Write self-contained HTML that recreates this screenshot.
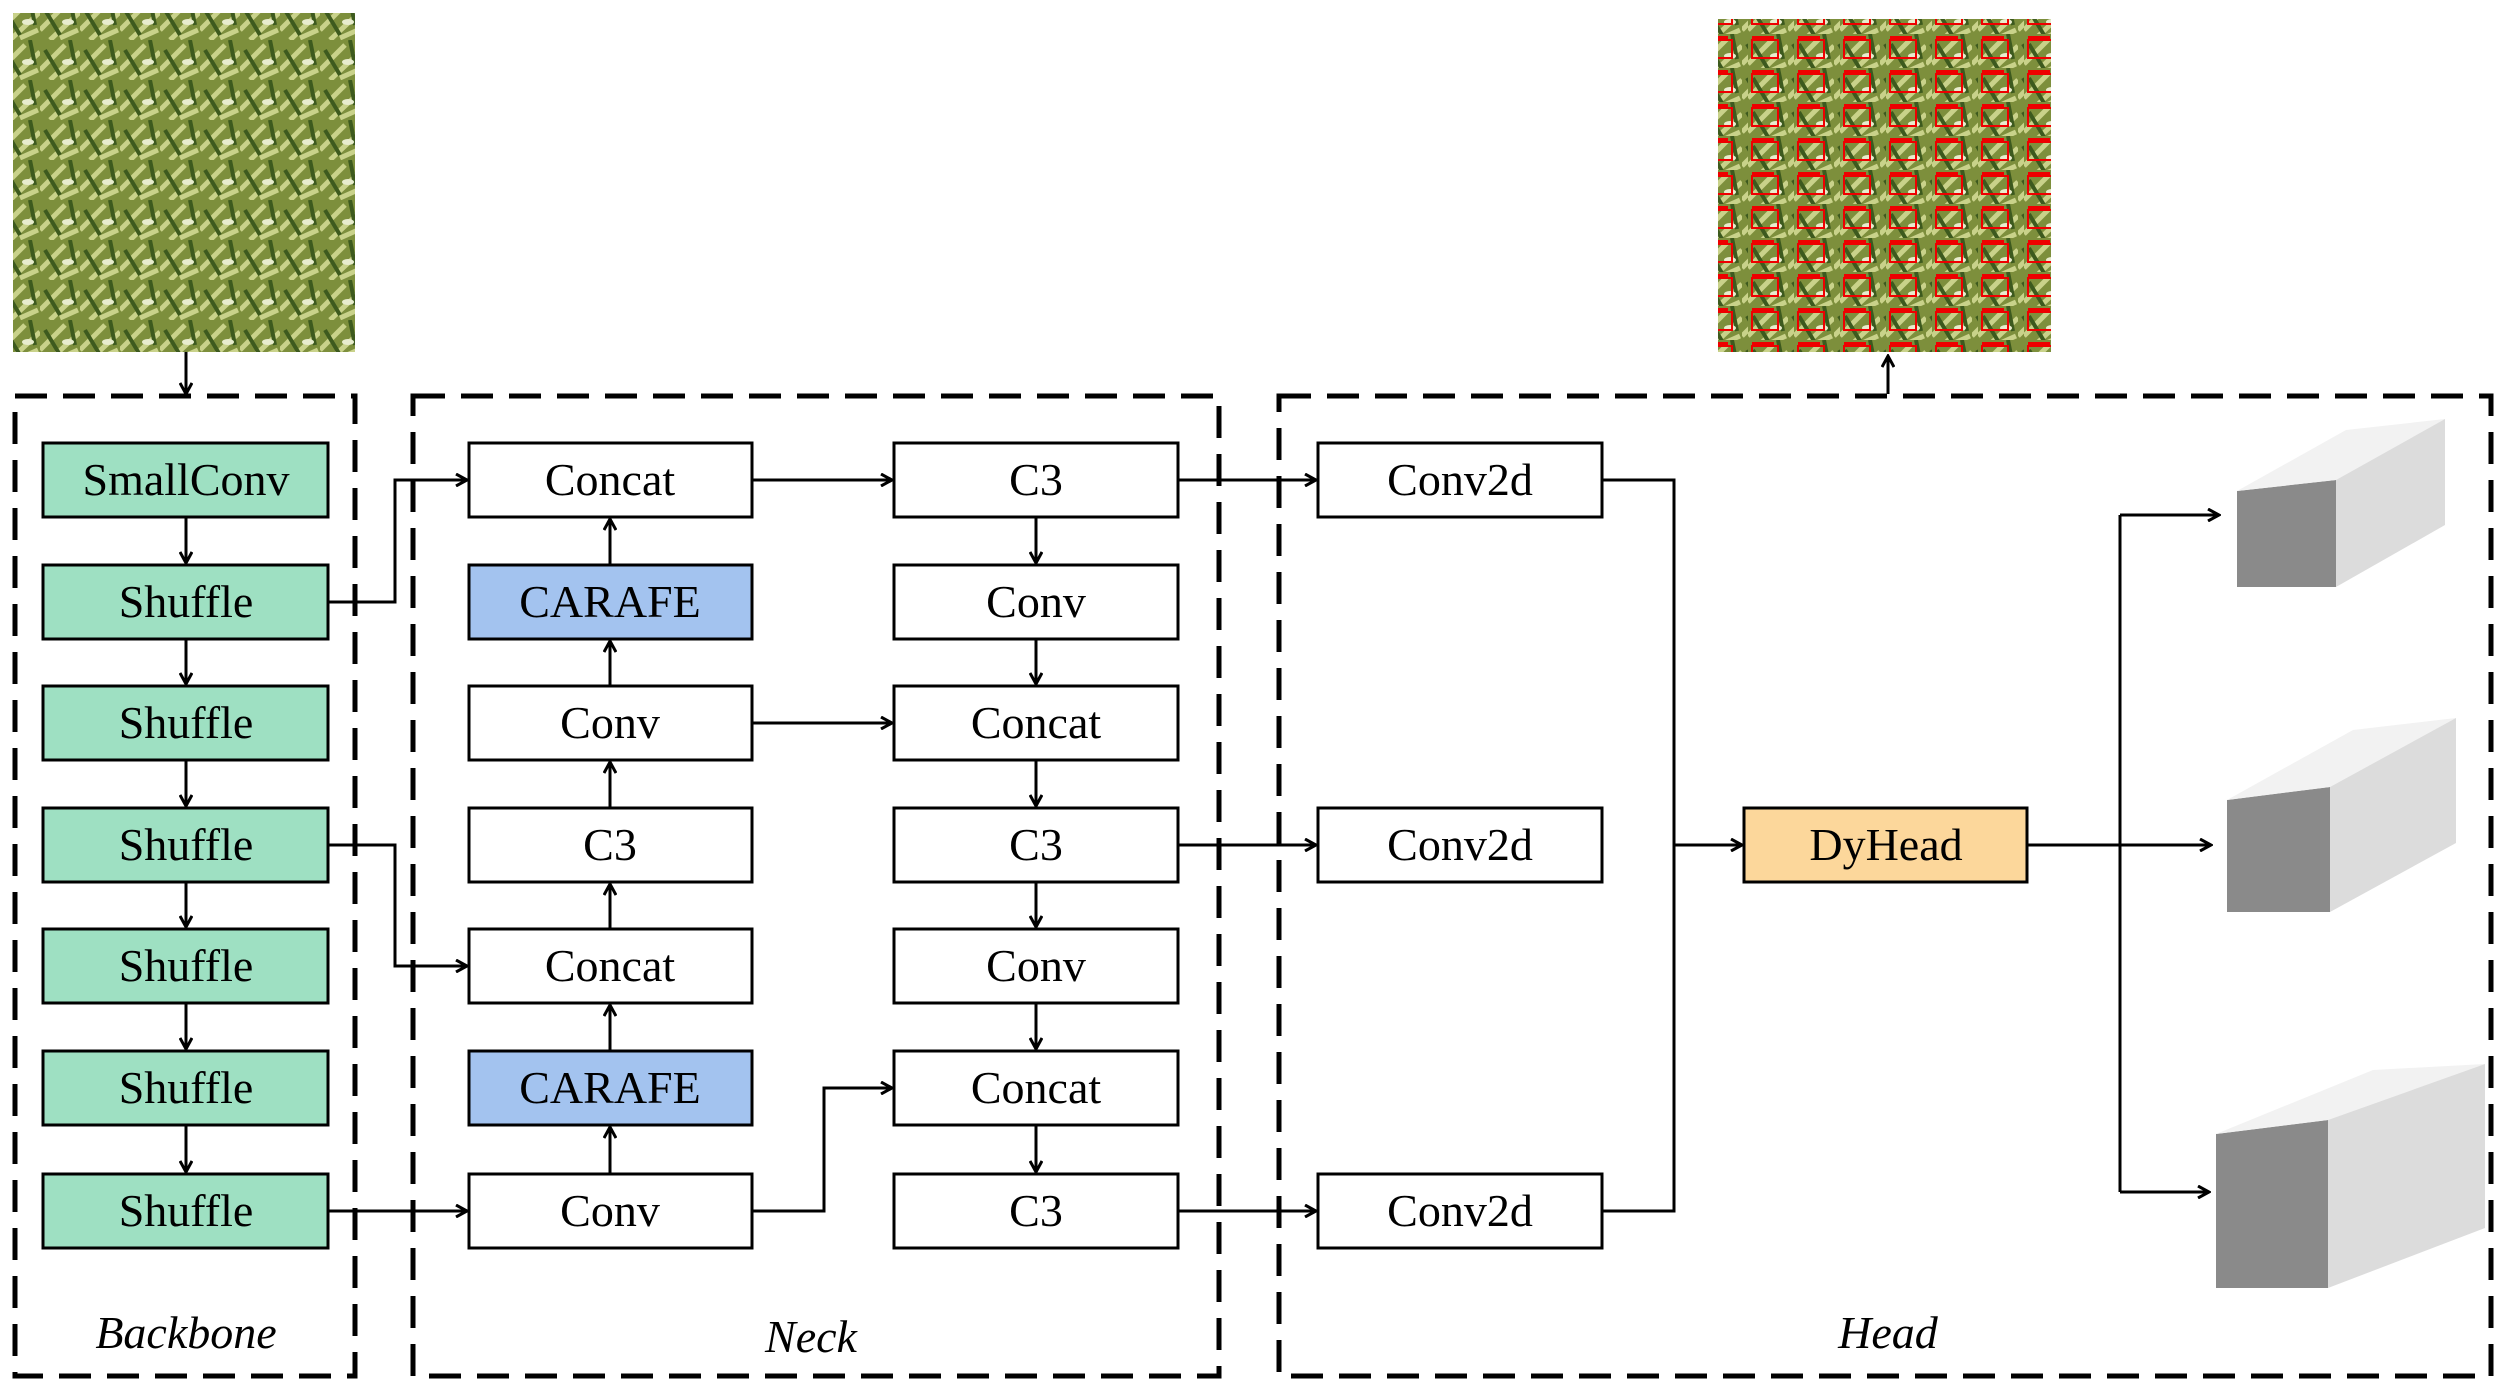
<!DOCTYPE html>
<html><head><style>
body{margin:0;background:#fff}
</style></head><body>
<svg width="2500" height="1388" viewBox="0 0 2500 1388" xmlns="http://www.w3.org/2000/svg" font-family="'Liberation Serif', 'DejaVu Serif', serif">
<defs>
<marker id="a" markerWidth="14" markerHeight="14" refX="12" refY="7" orient="auto" markerUnits="userSpaceOnUse"><path d="M1,1 L12,7 L1,13" fill="none" stroke="#000" stroke-width="3"/></marker>
<pattern id="g" width="40" height="40" patternUnits="userSpaceOnUse"><rect width="40" height="40" fill="#7d8f3c"/><path d="M0,30 L25,5 M10,40 L40,12 M20,38 L38,30" stroke="#c9d28a" stroke-width="5"/><path d="M5,10 L20,35 M30,0 L35,25" stroke="#3d5a1e" stroke-width="4"/><ellipse cx="28" cy="22" rx="6" ry="3" fill="#e8eccd"/></pattern>
<pattern id="r" width="46" height="34" patternUnits="userSpaceOnUse"><rect width="46" height="34" fill="url(#g)"/><rect x="4" y="6" width="26" height="18" fill="none" stroke="#e00" stroke-width="2"/><rect x="4" y="2" width="22" height="5" fill="#e00"/></pattern>
</defs>
<rect x="13" y="13" width="342" height="339" fill="url(#g)"/>
<rect x="1718" y="19" width="333" height="333" fill="url(#r)"/>
<g fill="none" stroke="#000" stroke-width="5" stroke-dasharray="32,16">
<rect x="15" y="396" width="340" height="980"/>
<rect x="413" y="396" width="806" height="980"/>
<rect x="1279" y="396" width="1212" height="980"/>
</g>
<g stroke="#000" stroke-width="3" fill="none" marker-end="url(#a)">
<path d="M186,352 V394"/>
<path d="M1888,394 V356"/>
<path d="M186,517 V563"/><path d="M186,639 V684"/><path d="M186,760 V806"/><path d="M186,882 V927"/><path d="M186,1003 V1049"/><path d="M186,1125 V1172"/>
<path d="M328,602 H395 V480 H467"/>
<path d="M328,845 H395 V966 H467"/>
<path d="M328,1211 H467"/>
<path d="M610,1174 V1127"/><path d="M610,1051 V1005"/><path d="M610,929 V884"/><path d="M610,808 V762"/><path d="M610,686 V641"/><path d="M610,565 V519"/>
<path d="M752,480 H892"/><path d="M752,723 H892"/><path d="M752,1211 H824 V1088 H892"/>
<path d="M1036,517 V563"/><path d="M1036,639 V684"/><path d="M1036,760 V806"/><path d="M1036,882 V927"/><path d="M1036,1003 V1049"/><path d="M1036,1125 V1172"/>
<path d="M1178,480 H1316"/><path d="M1178,845 H1316"/><path d="M1178,1211 H1316"/>
<path d="M1674,845 H1742"/>
<path d="M2120,515 H2219"/><path d="M2120,845 H2211"/><path d="M2120,1192 H2209"/>
</g>
<g stroke="#000" stroke-width="3" fill="none"><path d="M1602,480 H1674 V1211 H1602"/><path d="M2027,845 H2120 M2120,515 V1192"/></g>
<g stroke="#000" stroke-width="3">
<g fill="#9ee0c2">
<rect x="43" y="443" width="285" height="74"/><rect x="43" y="565" width="285" height="74"/><rect x="43" y="686" width="285" height="74"/><rect x="43" y="808" width="285" height="74"/><rect x="43" y="929" width="285" height="74"/><rect x="43" y="1051" width="285" height="74"/><rect x="43" y="1174" width="285" height="74"/></g>
<g fill="#fff">
<rect x="469" y="443" width="283" height="74"/><rect x="469" y="686" width="283" height="74"/><rect x="469" y="808" width="283" height="74"/><rect x="469" y="929" width="283" height="74"/><rect x="469" y="1174" width="283" height="74"/>
<rect x="894" y="443" width="284" height="74"/><rect x="894" y="565" width="284" height="74"/><rect x="894" y="686" width="284" height="74"/><rect x="894" y="808" width="284" height="74"/><rect x="894" y="929" width="284" height="74"/><rect x="894" y="1051" width="284" height="74"/><rect x="894" y="1174" width="284" height="74"/>
<rect x="1318" y="443" width="284" height="74"/><rect x="1318" y="808" width="284" height="74"/><rect x="1318" y="1174" width="284" height="74"/></g>
<g fill="#a3c3ef"><rect x="469" y="565" width="283" height="74"/><rect x="469" y="1051" width="283" height="74"/></g>
<rect x="1744" y="808" width="283" height="74" fill="#fcd79b"/>
</g>
<g font-size="46" text-anchor="middle" fill="#000">
<text x="186" y="495">SmallConv</text><text x="186" y="617">Shuffle</text><text x="186" y="738">Shuffle</text><text x="186" y="860">Shuffle</text><text x="186" y="981">Shuffle</text><text x="186" y="1103">Shuffle</text><text x="186" y="1226">Shuffle</text>
<text x="610" y="495">Concat</text><text x="610" y="617">CARAFE</text><text x="610" y="738">Conv</text><text x="610" y="860">C3</text><text x="610" y="981">Concat</text><text x="610" y="1103">CARAFE</text><text x="610" y="1226">Conv</text>
<text x="1036" y="495">C3</text><text x="1036" y="617">Conv</text><text x="1036" y="738">Concat</text><text x="1036" y="860">C3</text><text x="1036" y="981">Conv</text><text x="1036" y="1103">Concat</text><text x="1036" y="1226">C3</text>
<text x="1460" y="495">Conv2d</text><text x="1460" y="860">Conv2d</text><text x="1460" y="1226">Conv2d</text>
<text x="1886" y="860">DyHead</text>
</g>
<g font-size="46" font-style="italic" text-anchor="middle">
<text x="186" y="1348">Backbone</text><text x="811" y="1352">Neck</text><text x="1888" y="1348">Head</text>
</g>
<g>
<polygon points="2237,491 2336,480 2336,587 2237,587" fill="#8a8a8a"/>
<polygon points="2237,491 2336,480 2445,419 2346,430" fill="#f2f2f2"/>
<polygon points="2336,480 2445,419 2445,525 2336,587" fill="#dcdcdc"/>
<polygon points="2227,800 2330,787 2330,912 2227,912" fill="#8a8a8a"/>
<polygon points="2227,800 2330,787 2456,718 2353,730" fill="#f2f2f2"/>
<polygon points="2330,787 2456,718 2456,843 2330,912" fill="#dcdcdc"/>
<polygon points="2216,1134 2328,1120 2328,1288 2216,1288" fill="#8a8a8a"/>
<polygon points="2216,1134 2328,1120 2485,1064 2373,1070" fill="#f2f2f2"/>
<polygon points="2328,1120 2485,1064 2485,1228 2328,1288" fill="#dcdcdc"/>
</g>
</svg>
</body></html>
